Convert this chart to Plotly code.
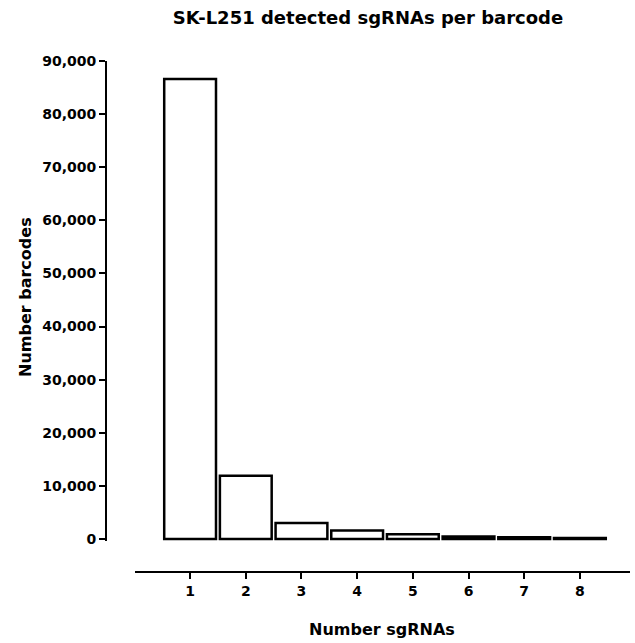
import plotly.graph_objects as go

categories = [1, 2, 3, 4, 5, 6, 7, 8]
barcodes = [86600, 11900, 3000, 1600, 900, 450, 300, 180]
y_ticks = [0, 10000, 20000, 30000, 40000, 50000, 60000, 70000, 80000, 90000]
y_tick_labels = ["0", "10,000", "20,000", "30,000", "40,000", "50,000",
                 "60,000", "70,000", "80,000", "90,000"]

FONT = "DejaVu Sans"
W, H = 635, 643
L, R, T, B = 106, 5, 61, 71
PW, PH = W - L - R, H - T - B

fig = go.Figure()
fig.add_trace(go.Bar(
    x=categories, y=barcodes, width=0.93,
    marker=dict(color="white", line=dict(color="black", width=2.5)),
))

fig.update_layout(
    width=W, height=H,
    margin=dict(l=L, r=R, t=T, b=B, autoexpand=False),
    plot_bgcolor="white", paper_bgcolor="white",
    showlegend=False,
    title=dict(text="<b>SK-L251 detected sgRNAs per barcode</b>",
               x=0.5, xref="paper", xanchor="center",
               y=1 - 18 / H, yref="container", yanchor="middle",
               font=dict(family=FONT, size=18, color="black")),
    font=dict(family=FONT, color="black"),
    xaxis=dict(
        domain=[0.0553, 1], range=[0.01, 8.9],
        anchor="free", position=0, automargin=False,
        tickvals=categories, ticktext=[f"<b>{c}</b>" for c in categories],
        ticks="outside", ticklen=6, tickwidth=2, tickcolor="black",
        showline=True, linecolor="black", linewidth=2,
        showgrid=False, zeroline=False,
        tickfont=dict(family=FONT, size=14, color="black"),
    ),
    yaxis=dict(
        domain=[0.0605, 1], range=[-400, 90000],
        anchor="free", position=0, automargin=False,
        tickvals=y_ticks, ticktext=[f"<b>{t}</b>" for t in y_tick_labels],
        ticks="outside", ticklen=6, tickwidth=2, tickcolor="black",
        showline=True, linecolor="black", linewidth=2,
        showgrid=False, zeroline=False,
        tickfont=dict(family=FONT, size=14, color="black"),
    ),
    annotations=[
        dict(text="<b>Number sgRNAs</b>", xref="paper", yref="paper",
             x=(0.0553 + 1) / 2, y=(T + PH - 630) / PH,
             xanchor="center", yanchor="middle", showarrow=False,
             font=dict(family=FONT, size=16, color="black")),
        dict(text="<b>Number barcodes</b>", xref="paper", yref="paper",
             x=(25 - L) / PW, y=(T + PH - 297) / PH, textangle=-90,
             xanchor="center", yanchor="middle", showarrow=False,
             font=dict(family=FONT, size=16, color="black")),
    ],
)

fig.write_html("out.html",
               config={"displayModeBar": False},
               post_script="document.body.style.margin='0';"
                           "document.body.style.overflow='hidden';")
